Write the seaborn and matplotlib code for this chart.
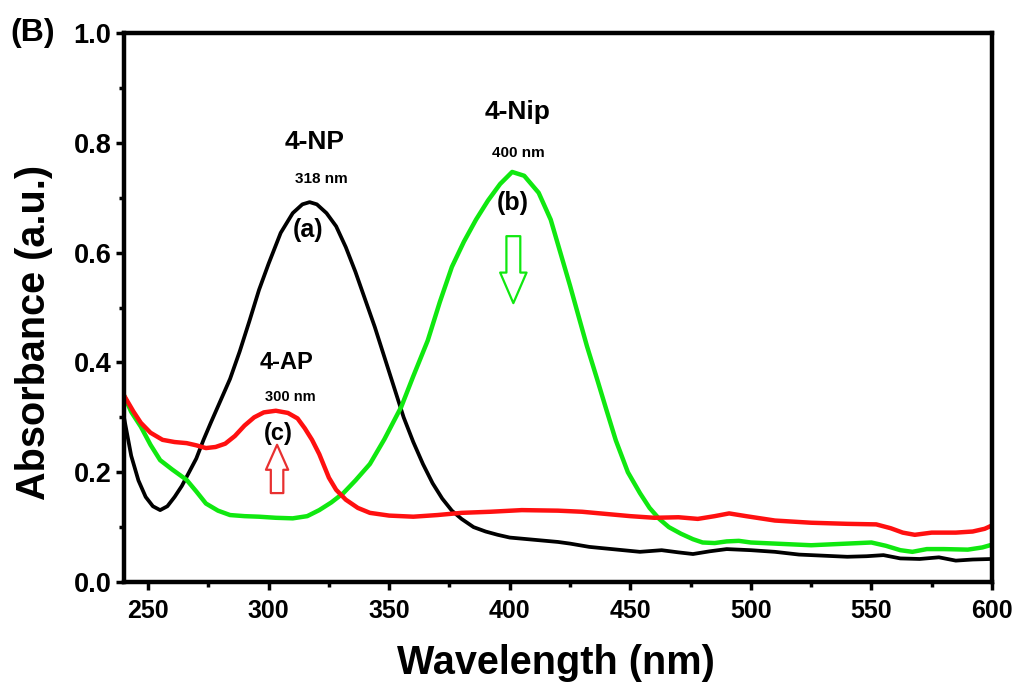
# --Libraries--
import numpy as np
import matplotlib
matplotlib.use('Agg')
import matplotlib.pyplot as plt
import seaborn as sns

# --Data (wavelength in nm, absorbance in a.u.)--

# -(a) 4-NP, black
wl_a = [240, 243, 246, 249, 252, 255, 258, 261, 264, 267, 270, 273, 276, 280, 284,
        288, 292, 296, 300, 305, 310, 314, 317, 320, 324, 328, 332, 336, 340, 344,
        348, 352, 356, 360, 364, 368, 372, 376, 380, 385, 390, 395, 400, 410, 420,
        425, 433, 440, 447, 454, 463, 470, 476, 483, 490, 500, 510, 520, 530, 540,
        548, 555, 562, 570, 578, 585, 592, 600]
abs_a = [0.300, 0.230, 0.185, 0.155, 0.138, 0.131, 0.138, 0.155, 0.175, 0.200, 0.225,
         0.259, 0.290, 0.330, 0.370, 0.420, 0.475, 0.532, 0.580, 0.636, 0.672, 0.688,
         0.692, 0.688, 0.672, 0.648, 0.610, 0.565, 0.515, 0.465, 0.410, 0.355, 0.300,
         0.255, 0.215, 0.180, 0.152, 0.130, 0.115, 0.100, 0.092, 0.086, 0.081, 0.077,
         0.073, 0.070, 0.064, 0.061, 0.058, 0.055, 0.058, 0.054, 0.051, 0.056, 0.060,
         0.058, 0.055, 0.050, 0.048, 0.046, 0.047, 0.049, 0.043, 0.042, 0.045, 0.039,
         0.041, 0.042]

# -(b) 4-Nip, green
wl_b = [240, 243, 247, 251, 255, 260, 266, 270, 274, 279, 284, 290, 296, 303, 310,
        316, 321, 326, 331, 336, 342, 348, 355, 360, 366, 371, 376, 381, 386, 391,
        396, 401, 406, 412, 417, 421, 425, 429, 432, 436, 440, 444, 449, 454, 458,
        462, 466, 471, 476, 480, 485, 490, 495, 500, 510, 525, 540, 550, 556, 562,
        567, 573, 580, 590, 596, 600]
abs_b = [0.340, 0.310, 0.283, 0.250, 0.222, 0.205, 0.186, 0.165, 0.143, 0.130, 0.122,
         0.120, 0.119, 0.117, 0.116, 0.120, 0.131, 0.145, 0.162, 0.185, 0.215, 0.260,
         0.319, 0.375, 0.440, 0.510, 0.574, 0.620, 0.660, 0.695, 0.725, 0.747, 0.740,
         0.709, 0.660, 0.600, 0.540, 0.477, 0.430, 0.373, 0.315, 0.258, 0.200, 0.162,
         0.135, 0.115, 0.100, 0.088, 0.078, 0.072, 0.071, 0.074, 0.075, 0.072, 0.070,
         0.067, 0.070, 0.072, 0.066, 0.058, 0.055, 0.060, 0.060, 0.059, 0.063, 0.068]

# -(c) 4-AP, red
wl_c = [240, 244, 247, 251, 256, 261, 266, 270, 274, 278, 282, 286, 290, 294, 298,
        303, 308, 312, 315, 318, 321, 325, 328, 332, 337, 342, 350, 360, 370, 380,
        392, 405, 420, 430, 440, 450, 460, 470, 478, 485, 491, 498, 510, 525, 540,
        552, 558, 563, 568, 575, 585, 592, 597, 600]
abs_c = [0.340, 0.310, 0.290, 0.272, 0.259, 0.255, 0.253, 0.249, 0.244, 0.246, 0.252,
         0.266, 0.285, 0.300, 0.309, 0.312, 0.308, 0.298, 0.280, 0.259, 0.233, 0.190,
         0.168, 0.150, 0.135, 0.126, 0.121, 0.119, 0.122, 0.126, 0.128, 0.131, 0.130,
         0.128, 0.124, 0.120, 0.117, 0.118, 0.115, 0.120, 0.125, 0.120, 0.112, 0.108,
         0.106, 0.105, 0.098, 0.090, 0.086, 0.090, 0.090, 0.092, 0.097, 0.103]

# -Peak annotations: name, wavelength text, curve letter
peak_names = ['4-NP', '4-Nip', '4-AP']
peak_wavelengths = ['318 nm', '400 nm', '300 nm']
curve_letters = ['(a)', '(b)', '(c)']

x_ticks = [250, 300, 350, 400, 450, 500, 550, 600]
y_ticks = [0.0, 0.2, 0.4, 0.6, 0.8, 1.0]

# --Style--
sns.set_style('white')
plt.rcParams['font.family'] = ['Liberation Sans', 'DejaVu Sans']
plt.rcParams['font.weight'] = 'bold'
plt.rcParams['text.color'] = 'black'
plt.rcParams['axes.labelcolor'] = 'black'
plt.rcParams['xtick.color'] = 'black'
plt.rcParams['ytick.color'] = 'black'

GREEN = '#10e810'
RED = '#ff1010'

fig = plt.figure(figsize=(10.22, 6.87), dpi=100)
ax = fig.add_axes([0.1213, 0.1528, 0.8493, 0.7991])

# --Spectra--
sns.lineplot(x=wl_a, y=abs_a, color='black', lw=2.7, ax=ax, estimator=None, sort=False)
sns.lineplot(x=wl_b, y=abs_b, color=GREEN, lw=3.2, ax=ax, estimator=None, sort=False)
sns.lineplot(x=wl_c, y=abs_c, color=RED, lw=3.2, ax=ax, estimator=None, sort=False)
for ln in ax.lines:
    ln.set_solid_joinstyle('round')
    ln.set_solid_capstyle('round')

# --Axes--
ax.set_xlim(240, 600)
ax.set_ylim(0, 1.0)
ax.set_xticks(x_ticks)
ax.set_yticks(y_ticks)
ax.set_xticks(np.arange(275, 600, 50), minor=True)
ax.set_yticks(np.arange(0.1, 1.0, 0.2), minor=True)
ax.set_xticklabels([str(t) for t in x_ticks], fontsize=18, fontweight='bold')
ax.set_yticklabels([f'{t:.1f}' for t in y_ticks], fontsize=19.5, fontweight='bold')
ax.tick_params(which='major', direction='out', length=6, width=2.5, pad=3,
               bottom=True, left=True, top=False, right=False)
ax.tick_params(axis='x', which='major', pad=6)
ax.tick_params(which='minor', direction='out', length=3.5, width=2.5,
               bottom=True, left=True, top=False, right=False)
for sp in ax.spines.values():
    sp.set_linewidth(3.2)
    sp.set_color('black')

ax.set_xlabel('Wavelength (nm)', fontsize=28.5, fontweight='bold')
ax.set_ylabel('Absorbance (a.u.)', fontsize=28.5, fontweight='bold')
ax.xaxis.set_label_coords(0.498, -0.1475)
ax.xaxis.label.set_va('center')
ax.yaxis.set_label_coords(-0.1037, 0.455)
ax.yaxis.label.set_va('center')

# --Peak labels--
name_pos = [(319.2, 0.802), (403.4, 0.856), (307.6, 0.399)]
nm_pos = [(322.0, 0.734), (403.4, 0.781), (308.9, 0.337)]
letter_pos = [(316.3, 0.641), (401.3, 0.690), (303.9, 0.271)]
name_sizes = [19, 19, 17]
nm_sizes = [11, 11, 10.5]
letter_sizes = [18, 18, 17]
for i in range(3):
    ax.text(*name_pos[i], peak_names[i], ha='center', va='center',
            fontsize=name_sizes[i], fontweight='bold', color='black')
    ax.text(*nm_pos[i], peak_wavelengths[i], ha='center', va='center',
            fontsize=nm_sizes[i], fontweight='bold', color='black')
    ax.text(*letter_pos[i], curve_letters[i], ha='center', va='center',
            fontsize=letter_sizes[i], fontweight='bold', color='black')

# --Hollow arrows (decrease of 4-Nip, increase of 4-AP)--
ax.annotate('', xy=(401.5, 0.508), xytext=(401.5, 0.630),
            arrowprops=dict(arrowstyle='simple,head_width=0.95,head_length=1.1,tail_width=0.5',
                            fc='white', ec=GREEN, lw=1.6, shrinkA=0, shrinkB=0,
                            mutation_scale=20))
ax.annotate('', xy=(303.5, 0.250), xytext=(303.5, 0.162),
            arrowprops=dict(arrowstyle='simple,head_width=0.8,head_length=0.9,tail_width=0.45',
                            fc='white', ec='#e83030', lw=1.6, shrinkA=0, shrinkB=0,
                            mutation_scale=20))

# --Panel tag--
fig.text(33 / 1022, 1 - 33 / 687, '(B)', ha='center', va='center',
         fontsize=23, fontweight='bold', color='black')

fig.savefig('out.png', dpi=100)
